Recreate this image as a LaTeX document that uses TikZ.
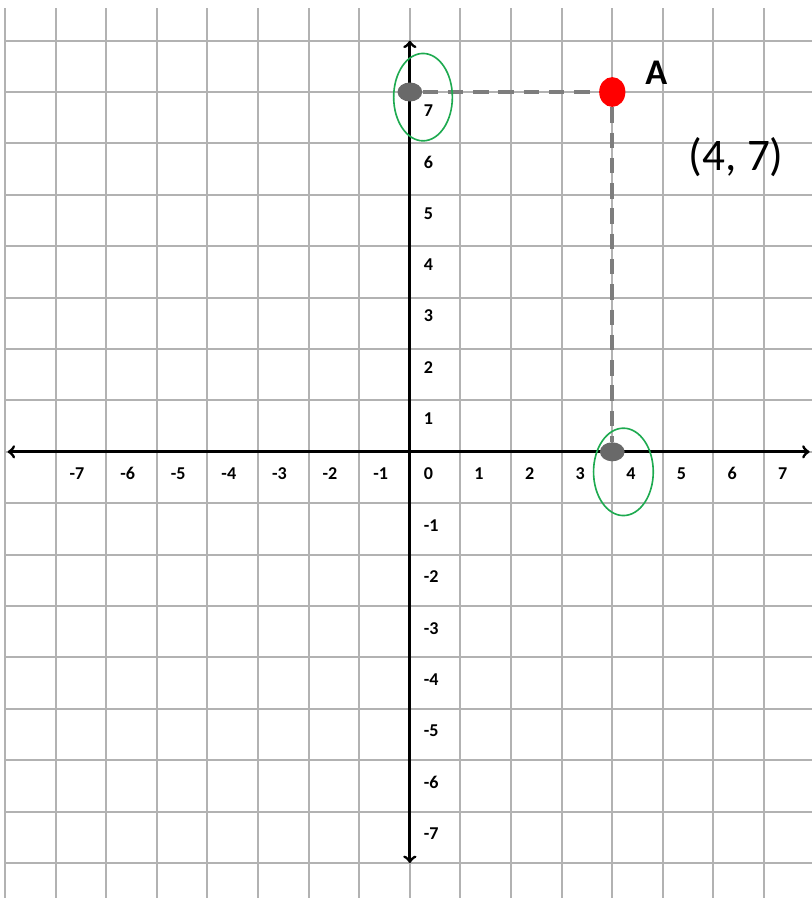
\documentclass[tikz,border=0pt]{standalone}
\usepackage{fontspec}
\setmainfont{Carlito}
\usepackage{tikz}
\usetikzlibrary{shapes.geometric, arrows, positioning, calc}

\definecolor{ringgreen}{RGB}{30,170,80}
\definecolor{dotgray}{RGB}{105,105,105}
\definecolor{dashgray}{RGB}{125,125,125}

\tikzset{
  gridline/.style={gray!60, line width=1.1pt},
  axisline/.style={<->, >=to, line width=1.6pt, black},
  ticklabel/.style={font=\fontsize{10}{12}\selectfont\bfseries, anchor=west, inner sep=0pt},
  graydot/.style={ellipse, fill=dotgray, inner sep=0pt, minimum width=0.48cm, minimum height=0.37cm},
  reddot/.style={ellipse, fill=red, inner sep=0pt, minimum width=0.51cm, minimum height=0.58cm},
  guide/.style={dashgray, line width=2pt, dash pattern=on 8.5pt off 5.5pt},
  ring/.style={ringgreen, line width=0.9pt}
}

\begin{document}
\begin{tikzpicture}[x=0.9844cm, y=1cm]
        \useasboundingbox (-8.10,-8.68) rectangle (7.94,8.79);

        % Grille
        \draw[gridline, step=1] (-8,-8.68) grid (7.94,8.64);

        % Axes
        \draw[axisline] (-7.95,0) -- (7.90,0);
        \draw[axisline] (0,-8) -- (0,8);

        % Graduations
        \foreach \i in {-7,...,7}
            \node[ticklabel] (x\i) at (\i+0.27,-0.42) {\i};
        \foreach \i in {1,...,7}
            \node[ticklabel] (y\i) at (0.27,\i-0.36) {\i};
        \foreach \i in {-7,...,-1}
            \node[ticklabel] (y\i) at (0.27,\i-0.43) {\i};

        % Projections du point A
        \node[graydot] (Py) at (0,7) {};
        \node[graydot] (Px) at (4,0) {};
        \node[reddot] (A) at (4,7) {};
        \draw[guide] (Py) -- (A) -- (Px);

        % Cercles verts
        \draw[ring] (0.26,6.90) ellipse (0.58 and 0.85);
        \draw[ring] (4.22,-0.39) ellipse (0.59 and 0.85);

        % Textes
        \node[font=\fontsize{20}{24}\selectfont\bfseries] (Aname) at (4.87,7.37) {A};
        \node[font=\fontsize{25}{30}\selectfont] (Acoord) at (6.45,5.74) {(4, 7)};
    \end{tikzpicture}
\end{document}
